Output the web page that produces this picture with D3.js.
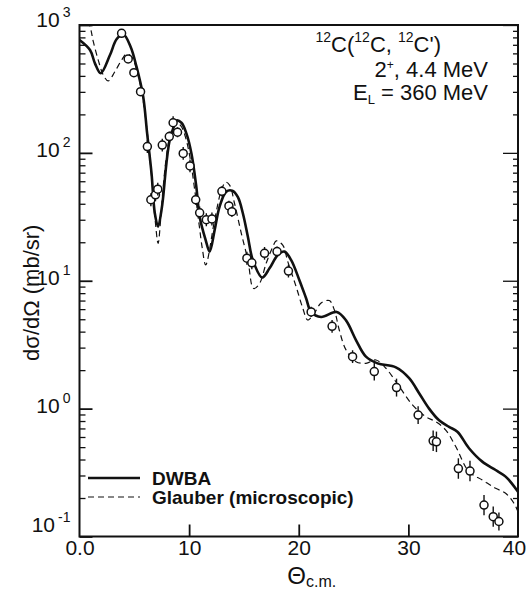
<!DOCTYPE html>
<html>
<head>
<meta charset="utf-8">
<script src="https://cdn.jsdelivr.net/npm/d3@7/dist/d3.min.js"></script>
<style>
  body { margin: 0; background: #fff; }
  text { font-family: "Liberation Sans", Arial, Helvetica, sans-serif; fill: #111; }
</style>
</head>
<body>
<div id="chart"></div>
<script>
// measured points: angle (deg c.m.), cross section (mb/sr), error (decades)
const dataAngle = [3.84, 4.44, 4.96, 5.57, 6.19, 6.51, 6.93, 7.14, 7.55, 8.19, 8.54, 8.94, 9.46, 10.08,
  10.60, 10.96, 11.57, 12.08, 12.99, 13.63, 13.90, 15.27, 15.72, 16.88, 18.02, 19.06, 21.13, 23.04,
  24.91, 26.89, 28.92, 30.89, 32.26, 32.56, 34.56, 35.62, 36.9, 37.74, 38.26];
const dataSigma = [861, 542, 424, 301, 112, 43, 47, 52, 115, 134, 172, 145, 99, 79,
  43, 34, 30, 30.4, 50, 38.5, 34.7, 15, 13.8, 16.4, 16.9, 11.9, 5.7, 4.4,
  2.55, 1.95, 1.46, 0.89, 0.56, 0.55, 0.34, 0.325, 0.176, 0.143, 0.131];
const dataErr = [0.02, 0.02, 0.02, 0.02, 0.05, 0.05, 0.05, 0.05, 0.05, 0.04, 0.05, 0.04, 0.05, 0.05,
  0.04, 0.05, 0.05, 0.05, 0.04, 0.04, 0.04, 0.05, 0.05, 0.05, 0.04, 0.05, 0.04, 0.05,
  0.05, 0.07, 0.07, 0.07, 0.08, 0.08, 0.08, 0.08, 0.08, 0.08, 0.07];

// DWBA curve (solid)
const dwbaAngle = [0, 0.96, 1.41, 1.93, 2.78, 3.38, 3.99, 4.66, 5.2, 5.81, 6.17, 6.57, 6.87, 7.17, 7.48,
  7.63, 7.93, 8.23, 8.6, 8.84, 9.3, 9.75, 10.21, 10.66, 10.96, 11.51, 11.87, 12.33, 12.78, 13.39,
  13.94, 14.45, 14.9, 15.36, 15.81, 16.67, 17.33, 18.09, 18.7, 19.31, 20.06, 20.67, 21.13, 22.04,
  23.46, 24.31, 25.22, 26.13, 27.19, 28.86, 30.07, 30.98, 31.89, 32.8, 33.71, 34.47, 35.53, 36.74,
  37.96, 38.87, 40];
const dwbaSigma = [764, 638, 501, 419, 582, 773, 846, 677, 472, 275, 142, 69, 33.7, 26.5, 35.8,
  45, 83, 126, 160, 179, 172, 142, 99, 54, 31.7, 20.8, 16.9, 25, 38, 49.8,
  50.6, 45, 33.7, 22.1, 14.5, 10.6, 12.5, 15.9, 16.9, 14.5, 10.1, 7.3, 5.7, 5.2,
  5.7, 4.9, 3.44, 2.55, 2.26, 2.1, 1.73, 1.32, 1.0, 0.81, 0.72, 0.66, 0.49, 0.385,
  0.331, 0.294, 0.224];

// Glauber (microscopic) curve (dashed)
const glauberAngle = [0, 0.96, 1.26, 1.71, 2.17, 2.62, 3.23, 3.84, 4.3, 4.75, 5.26, 5.75, 6.2, 6.6,
  6.9, 7.17, 7.4, 7.6, 7.9, 8.2, 8.6, 8.9, 9.3, 9.7, 10.1, 10.5, 10.9, 11.2, 11.51, 12.33, 12.94,
  13.33, 13.69, 14.15, 14.76, 15.36, 15.88, 16.42, 17.03, 17.64, 17.94, 18.54, 19.0, 19.76, 20.37,
  20.82, 21.43, 22.04, 22.79, 23.25, 23.7, 24.31, 25.22, 26.13, 27.04, 27.95, 29.16, 30.37, 31.59,
  32.5, 33.41, 34.32, 35.53, 36.74, 37.96, 38.87, 39.63, 40];
const glauberSigma = [1500, 970, 740, 532, 406, 365, 432, 532, 593, 565, 432, 275, 140, 62,
  30, 19.6, 30, 50, 90, 130, 165, 172, 160, 130, 90, 52, 28, 18, 13.3, 30, 51,
  59, 56, 40, 23.5, 14.5, 8.7, 9.5, 13.7, 18.5, 20.5, 19, 14.1, 9, 6.1,
  4.93, 5.6, 6.7, 7.0, 5.9, 4.1, 2.88, 2.33, 2.26, 2.4, 2.07, 1.49, 1.07, 0.865,
  0.79, 0.68, 0.505, 0.321, 0.277, 0.238, 0.218, 0.182, 0.156];

const xTicks = [0, 10, 20, 30, 40];
const xTickLabels = ["0.0", "10", "20", "30", "40"];
const yDecades = [-1, 0, 1, 2, 3];

const width = 528, height = 592;
const margin = { top: 25, right: 10, bottom: 55.5, left: 79.5 };
const ink = "#111";

const svg = d3.select("#chart").append("svg")
  .attr("width", width).attr("height", height);

const x = d3.scaleLinear().domain([0, 40]).range([margin.left, width - margin.right]);
const y = d3.scaleLog().domain([0.1, 1000]).range([height - margin.bottom, margin.top]);

svg.append("clipPath").attr("id", "plotclip")
  .append("rect")
  .attr("x", x(0)).attr("y", y(1000))
  .attr("width", x(40) - x(0)).attr("height", y(0.1) - y(1000));

// minor ticks (2..9 in each decade)
const minor = [];
yDecades.slice(0, 4).forEach(function (e) {
  for (let k = 2; k <= 9; k++) minor.push(k * Math.pow(10, e));
});

function styleAxis(g) {
  g.select(".domain").remove();
  g.selectAll("line").attr("stroke", ink).attr("stroke-width", 1.3);
}

svg.append("g").attr("transform", "translate(" + x(0) + ",0)")
  .call(d3.axisLeft(y).tickValues(minor).tickSize(-6).tickFormat(""))
  .call(styleAxis);
svg.append("g").attr("transform", "translate(" + x(40) + ",0)")
  .call(d3.axisRight(y).tickValues(minor).tickSize(-5).tickFormat(""))
  .call(styleAxis);
svg.append("g").attr("transform", "translate(" + x(40) + ",0)")
  .call(d3.axisRight(y).tickValues(yDecades.map(e => Math.pow(10, e))).tickSize(-15).tickFormat(""))
  .call(styleAxis);

// major y ticks with 10^n labels
const yAxis = svg.append("g").attr("transform", "translate(" + x(0) + ",0)")
  .call(d3.axisLeft(y).tickValues(yDecades.map(e => Math.pow(10, e))).tickSize(-13).tickFormat(""))
  .call(styleAxis);
yAxis.selectAll(".tick line").attr("stroke-width", 1.8);
yAxis.selectAll(".tick text").remove();
yAxis.selectAll(".tick").each(function (d) {
  const e = Math.round(Math.log10(d));
  const t = d3.select(this).append("text")
    .attr("x", -9)
    .attr("y", e === -1 ? -5 : (e === 3 ? 1 : 4))
    .attr("text-anchor", "end")
    .attr("font-size", 21);
  t.append("tspan").text("10");
  t.append("tspan").attr("font-size", 14).attr("dx", 3).attr("dy", -10).text(e);
});

// x ticks
const xAxis = svg.append("g").attr("transform", "translate(0," + y(0.1) + ")")
  .call(d3.axisBottom(x).tickValues(xTicks).tickSize(-12).tickFormat((d, i) => xTickLabels[i]))
  .call(styleAxis);
xAxis.selectAll(".tick line").attr("stroke-width", 1.8)
  .attr("display", d => (d === 0 || d === 40) ? "none" : null);
xAxis.selectAll(".tick text")
  .attr("y", 2).attr("dy", "0.8em")
  .attr("dx", d => d === 40 ? -4 : 0)
  .attr("font-size", 21).attr("font-family", "Liberation Sans, Arial, sans-serif").attr("fill", ink);

// frame
svg.append("rect")
  .attr("x", x(0)).attr("y", y(1000))
  .attr("width", x(40) - x(0)).attr("height", y(0.1) - y(1000))
  .attr("fill", "none").attr("stroke", ink).attr("stroke-width", 2);

const plot = svg.append("g").attr("clip-path", "url(#plotclip)");

const line = d3.line()
  .x(d => x(d[0])).y(d => y(d[1]))
  .curve(d3.curveCatmullRom.alpha(0.5));

plot.append("path")
  .datum(glauberAngle.map((a, i) => [a, glauberSigma[i]]))
  .attr("d", line)
  .attr("fill", "none").attr("stroke", ink).attr("stroke-width", 1.2)
  .attr("stroke-dasharray", "6,4");

plot.append("path")
  .datum(dwbaAngle.map((a, i) => [a, dwbaSigma[i]]))
  .attr("d", line)
  .attr("fill", "none").attr("stroke", ink).attr("stroke-width", 2.6);

// data points with error bars
const pts = plot.append("g").selectAll("g")
  .data(dataAngle.map((a, i) => ({ a: a, s: dataSigma[i], e: dataErr[i] })))
  .enter().append("g");
pts.append("line")
  .attr("x1", d => x(d.a)).attr("x2", d => x(d.a))
  .attr("y1", d => y(d.s * Math.pow(10, d.e)))
  .attr("y2", d => y(d.s / Math.pow(10, d.e)))
  .attr("stroke", ink).attr("stroke-width", 1.4);
pts.append("circle")
  .attr("cx", d => x(d.a)).attr("cy", d => y(d.s))
  .attr("r", 4)
  .attr("fill", "#fff").attr("stroke", ink).attr("stroke-width", 1.5);

// legend
const legend = svg.append("g");
legend.append("line").attr("x1", 88).attr("x2", 140).attr("y1", 478).attr("y2", 478)
  .attr("stroke", ink).attr("stroke-width", 2.6);
legend.append("line").attr("x1", 88).attr("x2", 140).attr("y1", 497).attr("y2", 497)
  .attr("stroke", ink).attr("stroke-width", 1.2).attr("stroke-dasharray", "6,4");
legend.append("text").attr("x", 152).attr("y", 485)
  .attr("font-size", 19).attr("font-weight", "bold").text("DWBA");
legend.append("text").attr("x", 152).attr("y", 504)
  .attr("font-size", 19).attr("font-weight", "bold").text("Glauber (microscopic)");

// reaction annotation
const note = svg.append("g").attr("font-size", 22);
const l1 = note.append("text").attr("x", 441).attr("y", 52).attr("text-anchor", "end");
l1.append("tspan").attr("font-size", 14).attr("dy", -10).text("12");
l1.append("tspan").attr("dy", 10).text("C(");
l1.append("tspan").attr("font-size", 14).attr("dy", -10).text("12");
l1.append("tspan").attr("dy", 10).text("C, ");
l1.append("tspan").attr("font-size", 14).attr("dy", -10).text("12");
l1.append("tspan").attr("dy", 10).text("C')");
const l2 = note.append("text").attr("x", 488).attr("y", 77).attr("text-anchor", "end");
l2.append("tspan").text("2");
l2.append("tspan").attr("font-size", 12).attr("dy", -8).text("+");
l2.append("tspan").attr("dy", 8).text(", 4.4 MeV");
const l3 = note.append("text").attr("x", 488).attr("y", 100).attr("text-anchor", "end");
l3.append("tspan").text("E");
l3.append("tspan").attr("font-size", 13).attr("dy", 4).text("L");
l3.append("tspan").attr("dy", -4).text(" = 360 MeV");

// axis titles
svg.append("text")
  .attr("transform", "translate(39," + ((y(0.1) + y(1000)) / 2 + 12) + ") rotate(-90)")
  .attr("text-anchor", "middle").attr("font-size", 22)
  .text("d\u03C3/d\u03A9 (mb/sr)");
const xt = svg.append("text").attr("x", (x(0) + x(40)) / 2 + 13).attr("y", 584)
  .attr("text-anchor", "middle");
xt.append("tspan").attr("font-size", 24).text("\u0398");
xt.append("tspan").attr("font-size", 16).attr("dy", 3).text("c.m.");
</script>
</body>
</html>
